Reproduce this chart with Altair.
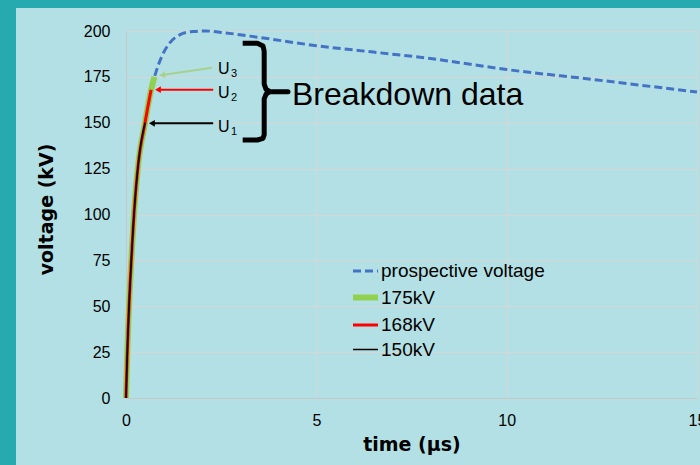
import altair as alt
import pandas as pd

# ---- data ----
series_names = ["prospective voltage", "175kV", "168kV", "150kV"]
series_colors = ["#4472C4", "#92D050", "#FF0000", "#000000"]
series_dash = [[8, 4], [1, 0], [1, 0], [1, 0]]
series_widths = [3, 6, 3, 1.6]

prospective_t = [0, 0.035, 0.08, 0.14, 0.21, 0.31, 0.5, 0.66, 0.75, 0.85, 0.97, 1.15,
                 1.42, 1.75, 2.1, 2.6, 3.5, 5.0, 6.5, 8.0, 10.0, 12.3, 15.0]
prospective_v = [0, 25, 50, 75, 100, 125, 150, 168, 175, 181.5, 187.5, 193.5,
                 198, 199.7, 200, 199, 196.5, 192, 188.5, 185, 179, 173.5, 166.7]

u175_t = [0, 0.035, 0.08, 0.14, 0.21, 0.31, 0.5, 0.66, 0.75]
u175_v = [0, 25, 50, 75, 100, 125, 150, 168, 175]
u168_t = [0, 0.035, 0.08, 0.14, 0.21, 0.31, 0.5, 0.66]
u168_v = [0, 25, 50, 75, 100, 125, 150, 168]
u150_t = [0, 0.035, 0.08, 0.14, 0.21, 0.31, 0.5]
u150_v = [0, 25, 50, 75, 100, 125, 150]

x_ticks = [0, 5, 10, 15]
y_ticks = [0, 25, 50, 75, 100, 125, 150, 175, 200]

# annotation positions (data coordinates)
arrow_labels = ["U3", "U2", "U1"]
arrow_colors = ["#A9D18E", "#FF0000", "#000000"]
arrow_t0 = [2.26, 2.29, 2.29]
arrow_v0 = [180.0, 168.0, 149.7]
arrow_t1 = [0.95, 0.84, 0.68]
arrow_v1 = [176.0, 168.0, 149.7]
arrow_angle = [352, 0, 0]
u_text_t = [2.42, 2.42, 2.42]
u_text_v = [176.6, 163.5, 145.0]
sub_text = ["3", "2", "1"]
sub_text_t = [2.76, 2.76, 2.76]
sub_text_v = [175.0, 161.9, 143.4]

brace_t = [3.065, 3.45, 3.6, 3.63, 3.63, 3.68, 3.78, 4.255, 3.78, 3.68, 3.63, 3.63, 3.6, 3.45, 3.065]
brace_v = [193.3, 193.3, 191.8, 189.0, 171.0, 168.2, 166.9, 166.9, 166.9, 165.6, 163.0, 143.5, 141.5, 140.6, 140.6]
brace_label = "Breakdown data"
brace_label_t = 4.36
brace_label_v = 159.7

# ---- build tables ----
rows = []
for name, ts, vs in [
    ("prospective voltage", prospective_t, prospective_v),
    ("175kV", u175_t, u175_v),
    ("168kV", u168_t, u168_v),
    ("150kV", u150_t, u150_v),
]:
    for i, (t, v) in enumerate(zip(ts, vs)):
        rows.append({"series": name, "t": t, "v": v, "i": i})
curves = pd.DataFrame(rows)

arrows = pd.DataFrame({
    "label": arrow_labels, "color": arrow_colors,
    "t0": arrow_t0, "v0": arrow_v0, "t1": arrow_t1, "v1": arrow_v1,
    "angle": arrow_angle,
    "ut": u_text_t, "uv": u_text_v,
    "sub": sub_text, "st": sub_text_t, "sv": sub_text_v,
})
brace = pd.DataFrame({"t": brace_t, "v": brace_v, "i": list(range(len(brace_t)))})

W, H = 571, 367
TEAL = "#27A9B0"
xscale = alt.Scale(domain=[0, 15], nice=False)
yscale = alt.Scale(domain=[0, 200], nice=False)

# teal frame strips (left and top), page background is the light blue
frame = pd.DataFrame({"k": [0]})
left_strip = alt.Chart(frame).mark_rect(color=TEAL).encode(
    x=alt.value(-126), x2=alt.value(-110), y=alt.value(-31), y2=alt.value(H + 67)
)
top_strip = alt.Chart(frame).mark_rect(color=TEAL).encode(
    x=alt.value(-126), x2=alt.value(W + 3), y=alt.value(-31), y2=alt.value(-23)
)

xaxis = alt.Axis(values=x_ticks, title="time (µs)", grid=True, gridColor="#D6D6D6",
                 domainColor="#C8C8C8", ticks=False, tickSize=0, labelPadding=14,
                 labelFlush=False, labelOverlap=False,
                 labelFont="Liberation Sans", labelFontSize=16, labelColor="#000000",
                 titleFont="DejaVu Sans", titleFontSize=19, titleFontWeight="bold",
                 titleColor="#000000", titleBaseline="middle", titleY=46)
yaxis = alt.Axis(values=y_ticks, title="voltage (kV)", grid=True, gridColor="#D6D6D6",
                 domainColor="#C8C8C8", ticks=False, tickSize=0, labelPadding=16,
                 labelFlush=False, labelOverlap=False,
                 labelFont="Liberation Sans", labelFontSize=16, labelColor="#000000",
                 titleFont="DejaVu Sans", titleFontSize=19, titleFontWeight="bold",
                 titleColor="#000000", titleBaseline="middle", titleX=-80, titleY=178,
                 titleAngle=270)

legend = alt.Legend(title=None, orient="none", legendX=224, legendY=226,
                    symbolType="stroke", symbolSize=625, labelFont="Liberation Sans",
                    labelFontSize=19, labelColor="#000000", labelOffset=0, labelLimit=400,
                    rowPadding=1, padding=0)

lines = alt.Chart(curves).mark_line(interpolate="monotone", strokeCap="butt").encode(
    x=alt.X("t:Q", scale=xscale, axis=xaxis),
    y=alt.Y("v:Q", scale=yscale, axis=yaxis),
    color=alt.Color("series:N", scale=alt.Scale(domain=series_names, range=series_colors), legend=legend),
    strokeDash=alt.StrokeDash("series:N", scale=alt.Scale(domain=series_names, range=series_dash), legend=legend),
    strokeWidth=alt.StrokeWidth("series:N", scale=alt.Scale(type="ordinal", domain=series_names, range=series_widths), legend=legend),
    order="i:Q",
)

arrow_lines = alt.Chart(arrows).mark_rule(strokeWidth=2).encode(
    x=alt.X("t0:Q", scale=xscale), y=alt.Y("v0:Q", scale=yscale),
    x2="t1:Q", y2="v1:Q",
    color=alt.Color("color:N", scale=None),
)
arrow_heads = alt.Chart(arrows).mark_point(shape="triangle-left", filled=True, size=45, opacity=1).encode(
    x=alt.X("t1:Q", scale=xscale), y=alt.Y("v1:Q", scale=yscale),
    color=alt.Color("color:N", scale=None),
    angle=alt.Angle("angle:Q", scale=None),
)
u_text = alt.Chart(arrows).mark_text(align="left", baseline="alphabetic", font="Liberation Sans",
                                      fontSize=16, color="#000000").encode(
    x=alt.X("ut:Q", scale=xscale), y=alt.Y("uv:Q", scale=yscale), text=alt.value("U"),
)
sub_t = alt.Chart(arrows).mark_text(align="left", baseline="alphabetic", font="Liberation Sans",
                                     fontSize=11, color="#000000").encode(
    x=alt.X("st:Q", scale=xscale), y=alt.Y("sv:Q", scale=yscale), text="sub:N",
)
brace_line = alt.Chart(brace).mark_line(color="#000000", strokeWidth=5, strokeJoin="round",
                                         strokeCap="butt").encode(
    x=alt.X("t:Q", scale=xscale), y=alt.Y("v:Q", scale=yscale), order="i:Q",
)
brace_text = alt.Chart(pd.DataFrame({"t": [brace_label_t], "v": [brace_label_v], "s": [brace_label]})).mark_text(
    align="left", baseline="alphabetic", font="Liberation Sans", fontSize=32, color="#000000").encode(
    x=alt.X("t:Q", scale=xscale), y=alt.Y("v:Q", scale=yscale), text="s:N",
)

chart = alt.layer(left_strip, top_strip, lines, arrow_lines, arrow_heads, u_text, sub_t,
                  brace_line, brace_text).properties(
    width=W, height=H,
    autosize=alt.AutoSizeParams(type="none"),
    padding={"left": 126, "top": 31, "right": 3, "bottom": 67},
    background="#B3E0E4",
).configure_view(stroke="transparent")

chart.save("out.html", embed_options={"renderer": "svg", "actions": False})
